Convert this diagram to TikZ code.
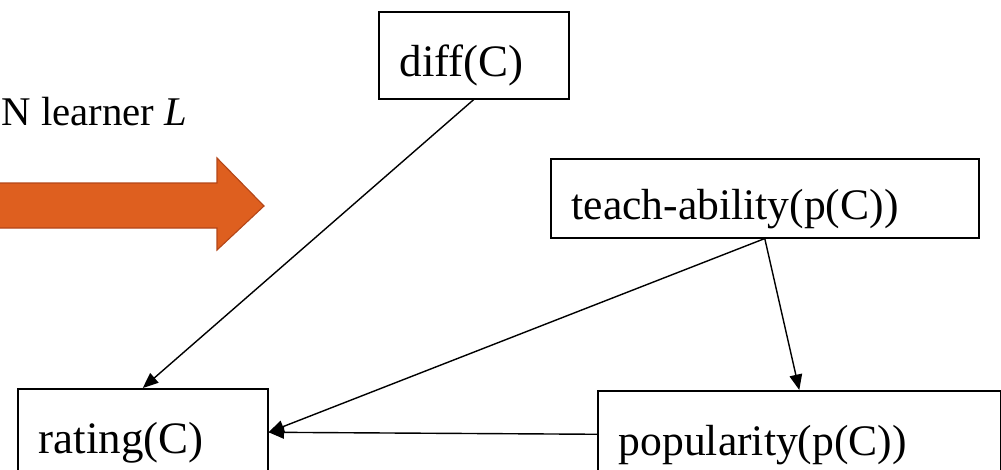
\documentclass[tikz,border=0pt]{standalone}
\usepackage{fontspec}
\setmainfont{Liberation Serif}
\usepackage{xcolor}
\definecolor{bnorange}{RGB}{222, 95, 31}
\definecolor{bnborder}{RGB}{180, 70, 24}
\usetikzlibrary{arrows.meta}

\tikzset{
  varbox/.style={draw, line width=1.1pt, anchor=north west, align=left,
    inner xsep=0.525cm, inner ysep=0pt, text height=30pt, text depth=0pt},
  dep/.style={-{Triangle[length=11pt, width=9pt]}, line width=1pt}
}

\begin{document}
\begin{tikzpicture}
      \useasboundingbox (0,0) rectangle (25.025,-11.75);
      % Learner label and big arrow
      \node[anchor=base west, inner sep=0pt, font=\fontsize{29}{34}\selectfont] (learner) at (0.03,-3.125) {N learner \textit{L}};
      \draw[fill=bnorange, draw=bnborder, line width=0.8pt]
        (-0.2,-4.575) -- (5.425,-4.575) -- (5.425,-3.95) -- (6.6,-5.15) --
        (5.425,-6.25) -- (5.425,-5.7) -- (-0.2,-5.7) -- cycle;
      % Variables
      \node[varbox, font=\fontsize{32}{38}\selectfont, text width=3.7cm, minimum height=2.175cm] (diff) at (9.45,-0.275) {diff(C)};
      \node[varbox, font=\fontsize{31}{37}\selectfont, text width=9.65cm, minimum height=1.975cm] (teach) at (13.75,-3.95) {teach-ability(p(C))};
      \node[varbox, font=\fontsize{32}{38}\selectfont, text width=5.2cm, minimum height=2.175cm] (rating) at (0.425,-9.7) {rating(C)};
      \node[varbox, font=\fontsize{31}{37}\selectfont, text width=9.025cm, minimum height=2.175cm] (popularity) at (14.925,-9.75) {popularity(p(C))};
      % Dependencies
      \draw[dep] (diff.south) -- (rating.north);
      \draw[dep] (teach.south) -- (rating.east);
      \draw[dep] (teach.south) -- (popularity.north);
      \draw[dep] (popularity.west) -- (rating.east);
\end{tikzpicture}
\end{document}
